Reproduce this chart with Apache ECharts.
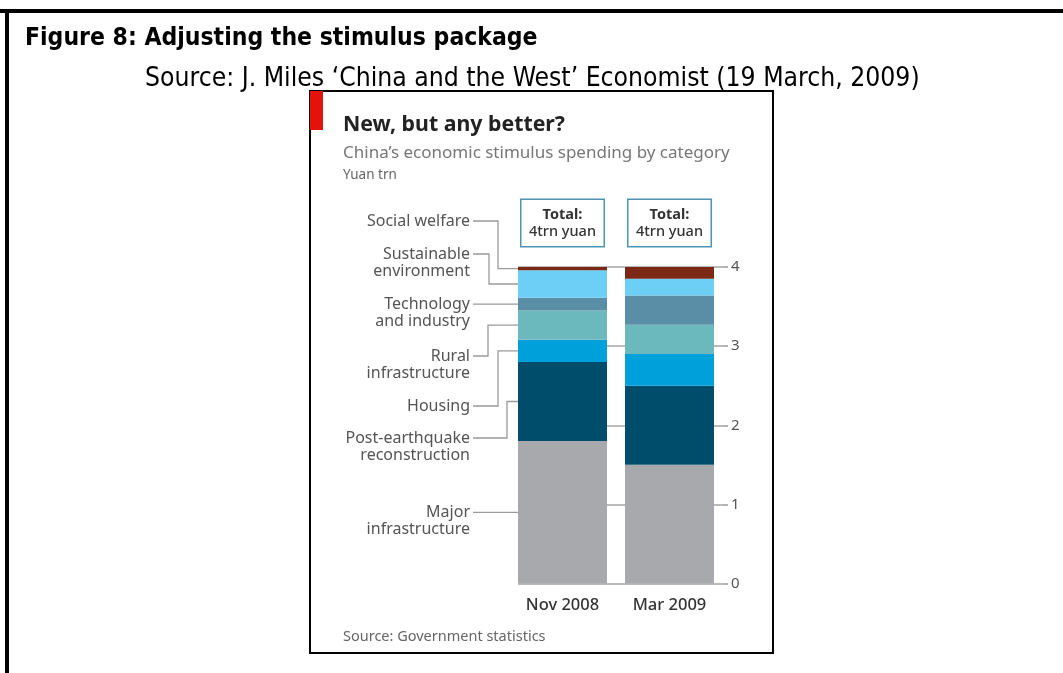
<!DOCTYPE html>
<html>
<head>
<meta charset="utf-8">
<script src="https://cdn.jsdelivr.net/npm/echarts@6/dist/echarts.min.js"></script>
<style>
  html, body { margin: 0; padding: 0; background: #fff; }
  #chart { width: 1063px; height: 673px; }
</style>
</head>
<body>
<div id="chart"></div>
<script>
// data, bottom to top of each bar, yuan trn
const periods = ['Nov 2008', 'Mar 2009']
const categories = [
  'Major\ninfrastructure',
  'Post-earthquake\nreconstruction',
  'Housing',
  'Rural\ninfrastructure',
  'Technology\nand industry',
  'Sustainable\nenvironment',
  'Social welfare'
]
const nov2008 = [1.8, 1.0, 0.28, 0.37, 0.16, 0.35, 0.04]
const mar2009 = [1.5, 1.0, 0.4, 0.37, 0.37, 0.21, 0.15]
const yTicks = [0, 1, 2, 3, 4]

const colors = ['#a7a9ac', '#004d6b', '#00a1db', '#6cb9bd', '#5a8da6', '#6dcff6', '#7b2814']

// leader layout for the labels on the left (first text line y, elbow x)
const leaders = [
  { y: null, elbow: null },
  { y: 438, elbow: 507 },
  { y: 406, elbow: 498 },
  { y: 356, elbow: 488 },
  { y: null, elbow: null },
  { y: 254, elbow: 489 },
  { y: 221, elbow: 498 }
]
const BAR_W = 89
const LABEL_X = 470
const LINE_H = 17
const inner = '"Noto Sans", sans-serif'
const narrow = '"Liberation Sans Narrow", "DejaVu Sans Condensed", sans-serif'

const total = Math.round(nov2008.reduce((a, b) => a + b, 0))

// midpoints of each Nov 2008 segment, where leader lines end
const mids = []
let acc = 0
nov2008.forEach(v => { mids.push(acc + v / 2); acc += v })

const chart = echarts.init(document.getElementById('chart'))

const barSeries = categories.map((name, i) => ({
  name: name,
  type: 'bar',
  stack: 'total',
  barWidth: BAR_W,
  data: [nov2008[i], mar2009[i]],
  itemStyle: { color: colors[i] },
  emphasis: { disabled: true },
  label: i === categories.length - 1 ? {
    show: true,
    position: 'top',
    distance: 21,
    width: 72,
    align: 'center',
    padding: [6, 5, 6, 5],
    backgroundColor: '#fff',
    borderColor: '#4f94b6',
    borderWidth: 1.5,
    formatter: () => `{b|Total:}\n{n|${total}trn yuan}`,
    rich: {
      b: { fontFamily: inner, fontWeight: 'bold', fontSize: 14.5, lineHeight: 17, color: '#333', align: 'center' },
      n: { fontFamily: inner, fontWeight: 500, fontSize: 14.5, lineHeight: 17, color: '#333', align: 'center' }
    }
  } : { show: false }
}))

const leaderSeries = {
  type: 'custom',
  clip: false,
  silent: true,
  z: 5,
  data: mids.map((m, i) => [0, m, i]),
  renderItem: (params, api) => {
    const i = api.value(2)
    const pt = api.coord([0, api.value(1)])
    const barLeft = pt[0] - BAR_W / 2
    const lay = leaders[i]
    const ly = lay.y == null ? pt[1] : lay.y
    const points = lay.elbow == null
      ? [[LABEL_X + 3, ly], [barLeft, ly]]
      : [[LABEL_X + 3, ly], [lay.elbow, ly], [lay.elbow, pt[1]], [barLeft, pt[1]]]
    return {
      type: 'group',
      children: [
        { type: 'polyline', shape: { points: points }, style: { stroke: '#9a9a9a', lineWidth: 1.3, fill: null } },
        {
          type: 'text',
          x: LABEL_X,
          y: ly - LINE_H / 2,
          style: {
            text: categories[i],
            align: 'right',
            verticalAlign: 'top',
            fontFamily: inner,
            fontSize: 16,
            lineHeight: LINE_H,
            fill: '#555'
          }
        }
      ]
    }
  }
}

const option = {
  animation: false,
  backgroundColor: '#fff',
  title: [
    { text: 'Figure 8: Adjusting the stimulus package', left: 25, top: 26, padding: 0,
      textStyle: { fontFamily: narrow, fontWeight: 'bold', fontSize: 24.5, color: '#000' } },
    { text: 'Source: J. Miles \u2018China and the West\u2019 Economist (19 March, 2009)', left: 145, top: 66, padding: 0,
      textStyle: { fontFamily: narrow, fontWeight: 'normal', fontSize: 26.3, color: '#000' } },
    { text: 'New, but any better?', left: 343, top: 114, padding: 0,
      textStyle: { fontFamily: inner, fontWeight: 'bold', fontSize: 21.3, color: '#222' } },
    { text: 'China\u2019s economic stimulus spending by category', left: 343, top: 145, padding: 0,
      textStyle: { fontFamily: inner, fontWeight: 'normal', fontSize: 17, color: '#777' } },
    { text: 'Yuan trn', left: 343, top: 168, padding: 0,
      textStyle: { fontFamily: inner, fontWeight: 'normal', fontSize: 13.5, color: '#666' } },
    { text: 'Source: Government statistics', left: 343, top: 629, padding: 0,
      textStyle: { fontFamily: inner, fontWeight: 'normal', fontSize: 14.5, color: '#666' } }
  ],
  graphic: [
    { type: 'line', shape: { x1: 0, y1: 11, x2: 1063, y2: 11 }, style: { stroke: '#000', lineWidth: 4 } },
    { type: 'line', shape: { x1: 7, y1: 9, x2: 7, y2: 673 }, style: { stroke: '#000', lineWidth: 4 } },
    { type: 'rect', shape: { x: 310, y: 91, width: 463, height: 562 }, style: { stroke: '#000', lineWidth: 2, fill: null } },
    { type: 'rect', shape: { x: 310, y: 91, width: 13, height: 39 }, style: { fill: '#e3120b' } }
  ],
  grid: { left: 509, width: 214, top: 267, bottom: 89.5 },
  xAxis: {
    type: 'category',
    data: periods,
    axisLine: { show: false },
    axisTick: { show: false },
    axisLabel: { margin: 13, fontFamily: inner, fontSize: 16.5, fontWeight: 500, color: '#333' }
  },
  yAxis: [
    {
      type: 'value', position: 'right', min: yTicks[0], max: yTicks[yTicks.length - 1], interval: 1,
      axisLine: { show: false },
      axisTick: { show: true, length: 5, lineStyle: { color: '#999', width: 1.5 } },
      axisLabel: { margin: 8, fontFamily: inner, fontSize: 15, color: '#555' },
      splitLine: { show: false }
    },
    {
      type: 'value', position: 'right', min: yTicks[0], max: yTicks[yTicks.length - 1], interval: 1,
      axisLine: { show: false },
      axisTick: { show: true, inside: true, length: 205, lineStyle: { color: '#a5a5a5', width: 1.5 } },
      axisLabel: { show: false },
      splitLine: { show: false }
    }
  ],
  series: [...barSeries, leaderSeries]
}

chart.setOption(option)
</script>
</body>
</html>
